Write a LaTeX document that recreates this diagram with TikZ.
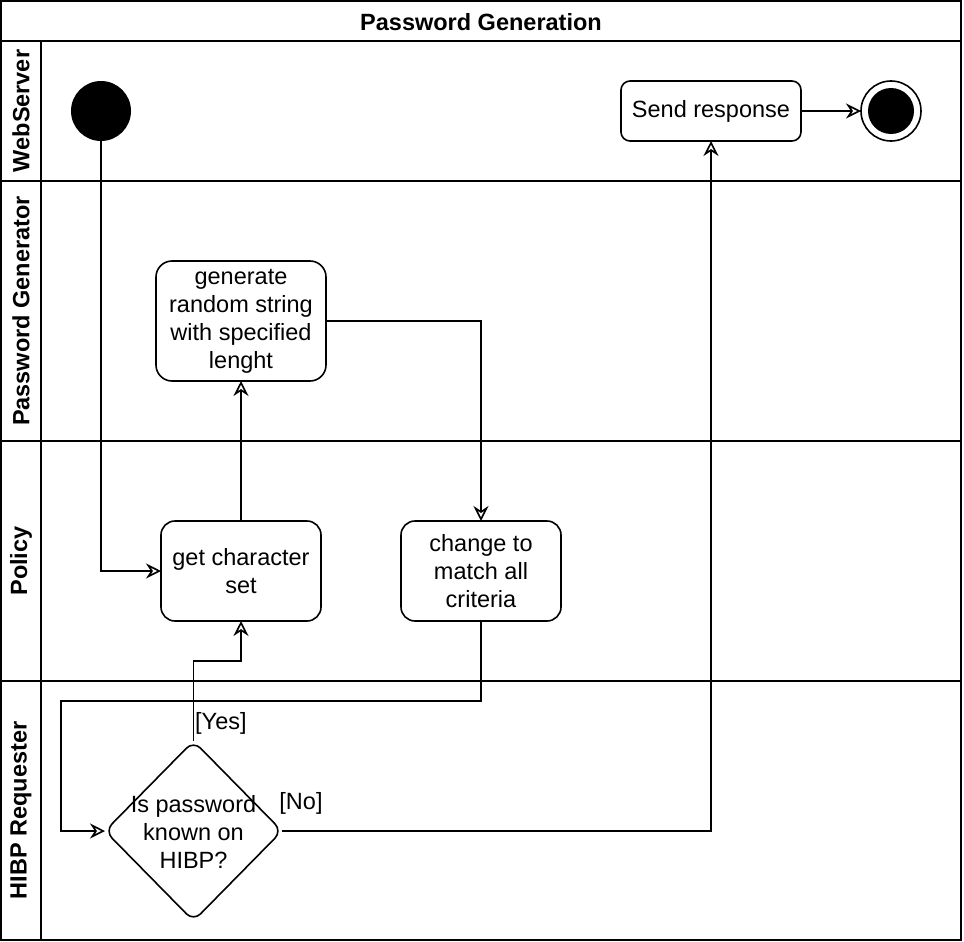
\documentclass[tikz,border=0pt]{standalone}
\usepackage{fontspec}
\setmainfont{Liberation Sans}
\usetikzlibrary{arrows.meta,shapes.geometric}
\begin{document}
\begin{tikzpicture}[x=1pt,y=-1pt,
  every node/.style={font=\fontsize{23.5}{28}\selectfont},
  frame/.style={line width=1.6pt},
  flow/.style={line width=1.6pt,-{Stealth[open,length=15pt,width=15pt,inset=5pt]}},
  act/.style={draw,line width=1.6pt,align=center,inner sep=0pt,outer sep=0pt},
  lanelabel/.style={rotate=90,font=\fontsize{23.5}{28}\selectfont\bfseries},
  guard/.style={inner sep=0pt}
]
\useasboundingbox (0,0) rectangle (964,942);
% frame and lanes
\draw[frame] (1,1) rectangle (961,940);
\draw[frame] (1,41) -- (961,41);
\draw[frame] (41,41) -- (41,940);
\draw[frame] (1,181) -- (961,181);
\draw[frame] (1,441) -- (961,441);
\draw[frame] (1,681) -- (961,681);
\node[font=\fontsize{23.5}{28}\selectfont\bfseries] (title) at (481,22) {Password Generation};
\node[lanelabel] (l1) at (21,111) {WebServer};
\node[lanelabel] (l2) at (21,311) {Password Generator};
\node[lanelabel] (l3) at (21,561) {Policy};
\node[lanelabel] (l4) at (21,810.5) {HIBP Requester};
% nodes
\node[circle,fill=black,minimum size=60pt,inner sep=0pt,outer sep=0pt] (start) at (101,111) {};
\node[act,rounded corners=9pt,minimum width=180pt,minimum height=60pt] (send) at (711,111) {Send response};
\node[circle,draw,line width=1.6pt,minimum size=60pt,inner sep=0pt,outer sep=0pt,
  path picture={\fill (path picture bounding box.center) circle (23pt);}] (end) at (891,111) {};
\node[act,rounded corners=16pt,minimum width=170pt,minimum height=120pt] (gen) at (241,321) {generate\\random string\\with specified\\lenght};
\node[act,rounded corners=14pt,minimum width=160pt,minimum height=100pt] (getchar) at (241,571) {get character\\set};
\node[act,rounded corners=14pt,minimum width=160pt,minimum height=100pt] (change) at (481,571) {change to\\match all\\criteria};
\node[diamond,draw,line width=1.6pt,rounded corners=10pt,minimum width=177pt,minimum height=180pt,inner sep=0pt,outer sep=0pt] (dia) at (193.5,831) {};
\node[align=center,inner sep=0pt] (diatext) at ([yshift=-1pt]dia.center) {Is password\\known on\\HIBP?};
% connectors
\draw[flow] (start.south) |- (getchar.west);
\draw[flow] (getchar.north) -- (gen.south);
\draw[flow] (gen.east) -| (change.north);
\draw[flow] (change.south) |- ++(-420,80) |- (dia.west);
\draw[flow] (dia.north) -- ++(0,-80) -| (getchar.south);
\draw[flow] (dia.east) -| (send.south);
\draw[flow] (send.east) -- (end.west);
\node[guard,anchor=west] (yes) at (195,723) {[Yes]};
\node[guard] (no) at (301,803) {[No]};
\end{tikzpicture}
\end{document}
